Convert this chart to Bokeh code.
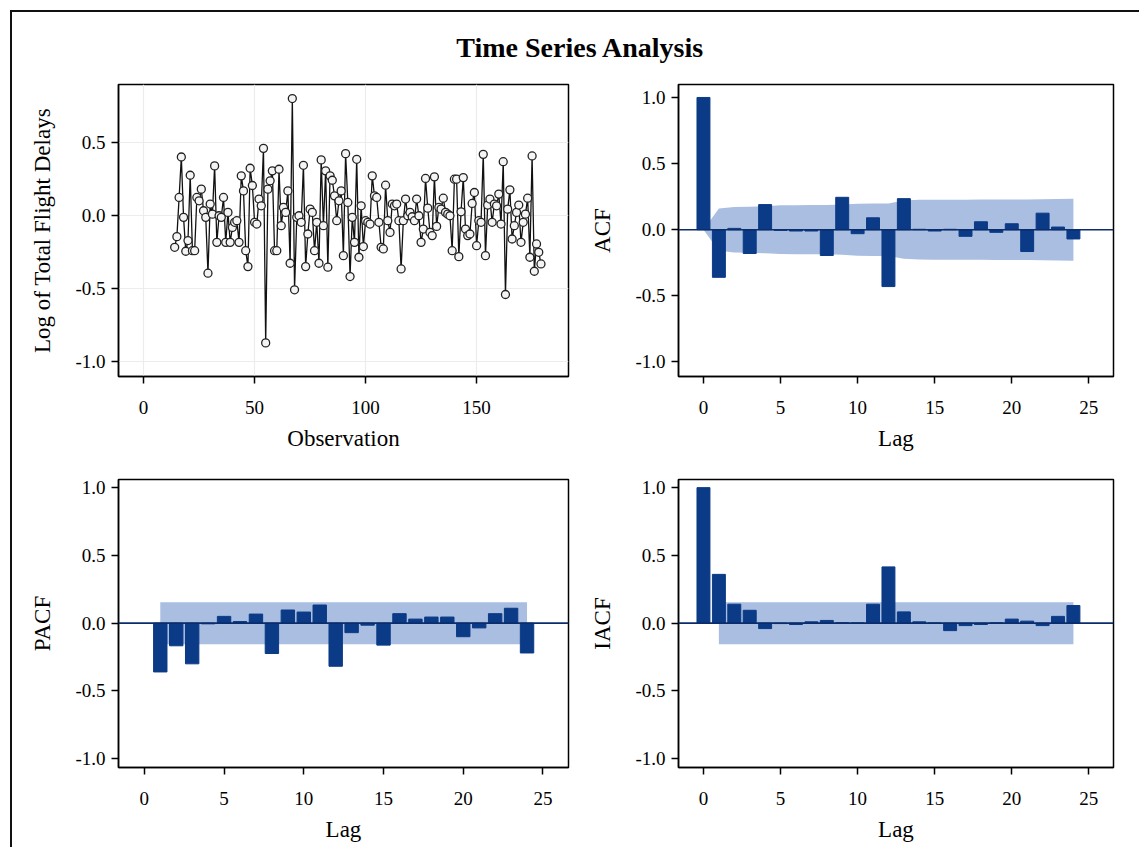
from bokeh.plotting import figure
from bokeh.models import Range1d, Span, Label, FixedTicker
from bokeh.layouts import column, row
from bokeh.embed import file_html
from bokeh.resources import INLINE

FONT = "Liberation Serif"
BAR_COLOR = "#0B3A86"
BAND_COLOR = "#A9BEE0"

title_text = "Time Series Analysis"

# ---- series: log of total flight delays (differenced), observations 14..179
obs_start = 14
log_delays = [
    -0.216, -0.143, 0.125, 0.402, -0.011, -0.243, -0.170, 0.277, -0.239, -0.239,
    0.125, 0.102, 0.182, 0.034, -0.011, -0.393, 0.080, 0.011, 0.341, -0.182,
    0.000, -0.011, 0.125, -0.182, 0.023, -0.182, -0.080, -0.045, -0.034, -0.182,
    0.273, 0.170, -0.239, -0.348, 0.325, 0.207, -0.045, -0.057, 0.114, 0.068,
    0.461, -0.870, 0.182, 0.239, 0.307, -0.239, -0.239, 0.318, -0.068, 0.057,
    0.023, 0.170, -0.325, 0.802, -0.507, -0.011, 0.000, -0.045, 0.345, -0.348,
    -0.125, 0.045, 0.023, -0.239, -0.045, -0.325, 0.382, -0.068, 0.307, -0.352,
    0.273, 0.243, 0.136, -0.034, 0.102, 0.170, -0.273, 0.425, 0.091, -0.416,
    -0.011, -0.182, 0.386, -0.284, 0.068, -0.211, -0.034, -0.045, -0.057, 0.273,
    0.136, 0.125, -0.045, -0.216, -0.227, 0.209, -0.034, -0.114, 0.080, 0.068,
    0.080, -0.034, -0.364, -0.034, 0.114, 0.000, 0.023, -0.007, -0.034, 0.114,
    0.000, -0.182, -0.091, 0.255, 0.052, -0.114, -0.136, 0.266, -0.073, 0.057,
    0.045, 0.120, 0.023, 0.011, 0.000, -0.239, 0.250, 0.250, -0.280, 0.027,
    0.261, -0.091, -0.136, -0.125, 0.084, 0.159, -0.205, -0.034, -0.045, 0.420,
    -0.273, 0.073, 0.114, -0.045, 0.080, 0.068, 0.148, -0.057, 0.370, -0.539,
    0.045, 0.177, -0.159, -0.068, 0.023, 0.073, -0.182, -0.045, 0.011, 0.120,
    -0.284, 0.409, -0.380, -0.193, -0.250, -0.330,
]
observations = list(range(obs_start, obs_start + len(log_delays)))

# ---- correlation functions
acf_lags = list(range(0, 25))
acf = [1.0, -0.36, 0.01, -0.18, 0.19, -0.005, -0.01, -0.01, -0.195, 0.245,
       -0.03, 0.09, -0.43, 0.235, 0.003, -0.01, 0.003, -0.05, 0.06, -0.02,
       0.045, -0.165, 0.125, 0.02, -0.07]
acf_limit = [0.0, 0.160, 0.172, 0.174, 0.178, 0.184, 0.185, 0.186, 0.186, 0.190,
             0.197, 0.198, 0.199, 0.220, 0.226, 0.227, 0.227, 0.227, 0.228, 0.229,
             0.229, 0.229, 0.231, 0.233, 0.234]

pacf_lags = list(range(1, 25))
pacf = [-0.36, -0.167, -0.30, -0.005, 0.05, 0.012, 0.067, -0.224, 0.097, 0.082,
        0.134, -0.318, -0.07, -0.015, -0.162, 0.07, 0.03, 0.045, 0.045, -0.10,
        -0.035, 0.07, 0.11, -0.22]
pacf_limit = 0.155

iacf_lags = list(range(0, 25))
iacf = [1.0, 0.36, 0.14, 0.095, -0.04, -0.003, -0.01, 0.01, 0.02, 0.003,
        0.001, 0.14, 0.415, 0.083, 0.01, 0.001, -0.055, -0.018, -0.01, 0.002,
        0.03, 0.015, -0.018, 0.05, 0.13]
iacf_limit = 0.155

obs_ticks = [0, 50, 100, 150]
lag_ticks = [0, 5, 10, 15, 20, 25]
corr_ticks = [-1.0, -0.5, 0.0, 0.5, 1.0]
corr_tick_labels = ["-1.0", "-0.5", "0.0", "0.5", "1.0"]


def style(p, xlabel, ylabel, xticks, yticks, ylabels, grid=False):
    p.xaxis.axis_label = xlabel
    p.yaxis.axis_label = ylabel
    for ax in (p.xaxis[0], p.yaxis[0]):
        ax.axis_label_text_font = FONT
        ax.axis_label_text_font_size = "23px"
        ax.axis_label_text_font_style = "normal"
        ax.axis_label_text_color = "black"
        ax.major_label_text_font = FONT
        ax.major_label_text_font_size = "19px"
        ax.major_label_text_color = "black"
        ax.major_tick_out = 7
        ax.major_tick_in = 0
        ax.minor_tick_out = 0
        ax.minor_tick_in = 0
        ax.major_tick_line_color = "black"
        ax.major_tick_line_width = 1.5
        ax.axis_line_color = "black"
        ax.axis_line_width = 1.5
    p.xaxis.ticker = FixedTicker(ticks=xticks)
    p.yaxis.ticker = FixedTicker(ticks=yticks)
    p.yaxis.major_label_overrides = {t: l for t, l in zip(yticks, ylabels)}
    p.xaxis.major_label_standoff = 17
    p.yaxis.major_label_standoff = 6
    p.xaxis.axis_label_standoff = 9
    p.yaxis.axis_label_standoff = 17
    p.outline_line_color = "black"
    p.outline_line_width = 1.5
    if grid:
        p.grid.grid_line_color = "#ececec"
        p.grid.grid_line_width = 1.2
    else:
        p.grid.visible = False
    p.background_fill_color = "white"
    p.border_fill_color = "white"


def make_fig(fw, fh, xr, yr, left, right, bottom):
    return figure(frame_width=fw, frame_height=fh, x_range=xr, y_range=yr,
                  min_border_left=left, min_border_right=right,
                  min_border_top=13, min_border_bottom=bottom,
                  output_backend="svg", toolbar_location=None)


# ---- title
pt = figure(width=1127, height=59, x_range=Range1d(0, 1127), y_range=Range1d(0, 59),
            min_border=0, output_backend="svg", toolbar_location=None)
pt.axis.visible = False
pt.grid.visible = False
pt.outline_line_color = None
pt.add_layout(Label(x=568, y=24, text=title_text, text_align="center",
                    text_baseline="middle", text_font=FONT, text_font_size="28px",
                    text_font_style="bold", text_color="black"))

# ---- series plot
p1 = make_fig(450, 292, Range1d(-11.3, 191.4), Range1d(-1.10, 0.898), 106, 17, 90)
p1.line(observations, log_delays, line_color="#111111", line_width=1.3)
p1.scatter(observations, log_delays, marker="circle", size=8,
           fill_color="#f4f4f4", line_color="#222222", line_width=1.3)
style(p1, "Observation", "Log of Total Flight Delays", obs_ticks,
      corr_ticks[:4], corr_tick_labels[:4], grid=True)


def corr_panel(fw, fh, yr, left, right, bottom, lags, vals, band_x, band_hi, ylabel):
    p = make_fig(fw, fh, Range1d(-1.62, 26.6), yr, left, right, bottom)
    p.varea(x=band_x, y1=[-v for v in band_hi], y2=band_hi, fill_color=BAND_COLOR)
    p.vbar(x=lags, top=vals, bottom=0, width=0.84, fill_color=BAR_COLOR,
           line_color=BAR_COLOR)
    p.add_layout(Span(location=0, dimension="width", line_color="#0B2D6B",
                      line_width=1.6))
    style(p, "Lag", ylabel, lag_ticks, corr_ticks, corr_tick_labels)
    return p


p2 = corr_panel(435, 292, Range1d(-1.11, 1.098), 93, 24, 90,
                acf_lags, acf, acf_lags, acf_limit, "ACF")
p3 = corr_panel(450, 288, Range1d(-1.065, 1.06), 106, 17, 80,
                pacf_lags, pacf, pacf_lags, [pacf_limit] * len(pacf_lags), "PACF")
p4 = corr_panel(435, 288, Range1d(-1.065, 1.06), 93, 24, 80,
                iacf_lags, iacf, iacf_lags[1:], [iacf_limit] * (len(iacf_lags) - 1), "IACF")

layout = column(pt, row(p1, p2), row(p3, p4), margin=(10, 0, 0, 10),
                styles={"border-left": "2px solid #111", "border-top": "2px solid #111"})

open("out.html", "w").write(file_html(layout, INLINE, title="Time Series Analysis"))
